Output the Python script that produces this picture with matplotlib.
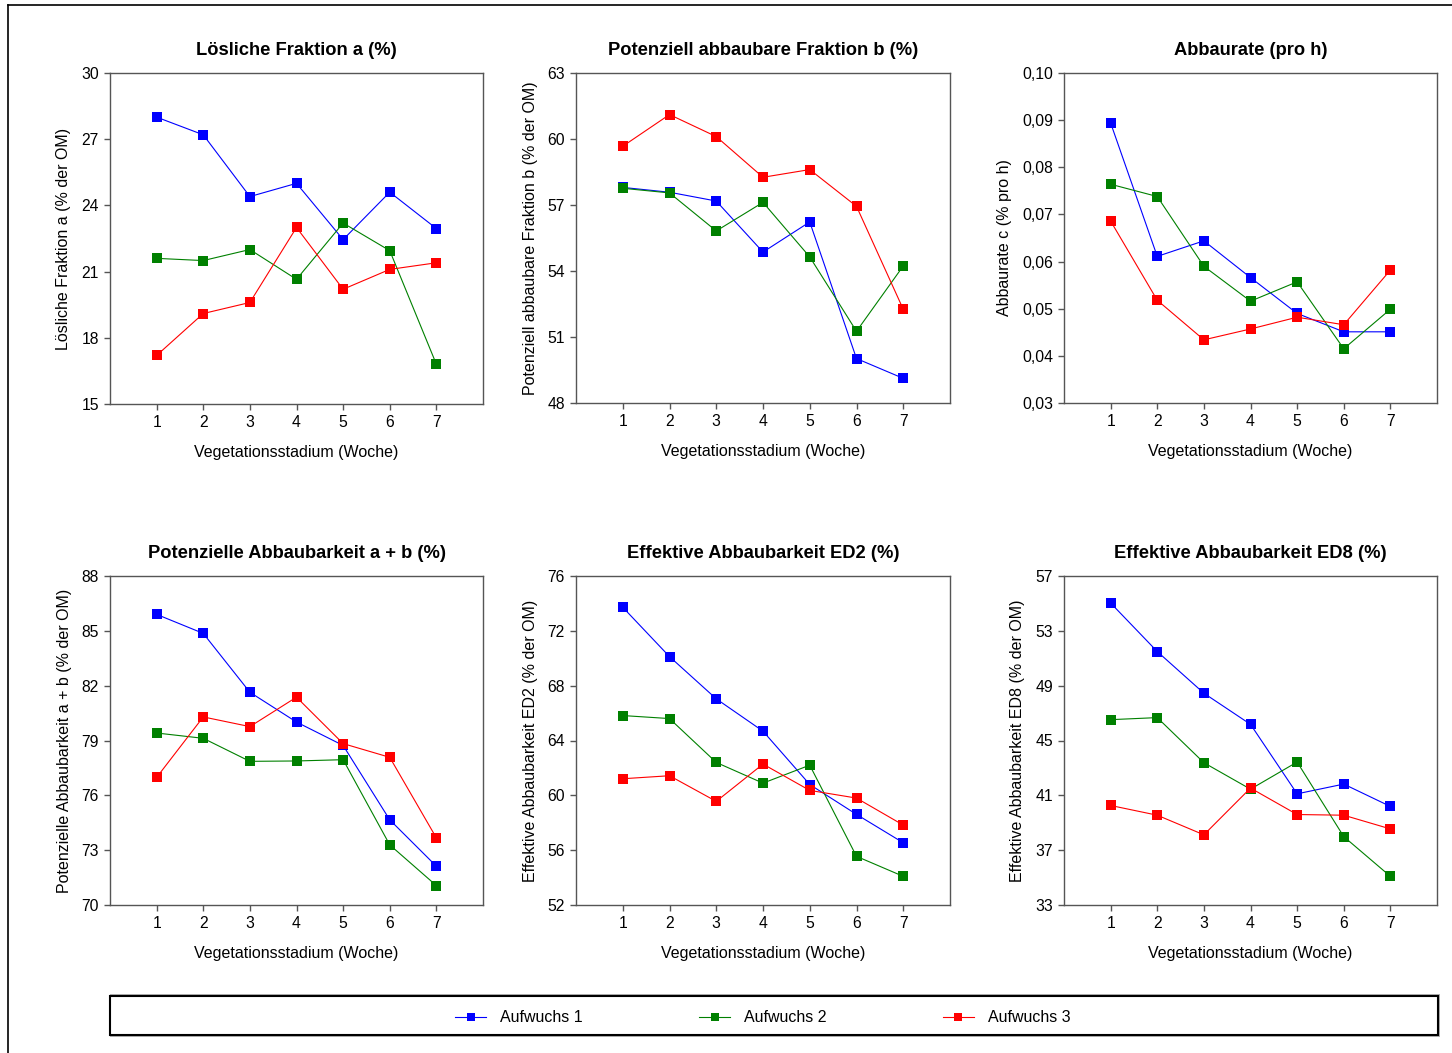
import matplotlib

matplotlib.use("Agg")
import matplotlib.pyplot as plt
from matplotlib.lines import Line2D
from matplotlib.patches import Rectangle
from matplotlib.ticker import FuncFormatter

plt.rcParams.update(
    {
        "font.family": ["Liberation Sans", "DejaVu Sans"],
        "font.size": 11,
        "axes.edgecolor": "#555555",
        "axes.linewidth": 1.0,
        "xtick.color": "#555555",
        "ytick.color": "#555555",
        "xtick.labelcolor": "black",
        "ytick.labelcolor": "black",
    }
)

# ── Data ──────────────────────────────────────────────────────────────────────
weeks = [1, 2, 3, 4, 5, 6, 7]
series_names = ["Aufwuchs 1", "Aufwuchs 2", "Aufwuchs 3"]
COLORS = ["#0000FF", "#008000", "#FF0000"]

a_loeslich = [
    [28.0, 27.2, 24.4, 25.0, 22.45, 24.6, 22.95],
    [21.6, 21.5, 22.0, 20.65, 23.2, 21.95, 16.8],
    [17.2, 19.1, 19.6, 23.0, 20.2, 21.1, 21.4],
]
b_abbaubar = [
    [57.8, 57.58, 57.18, 54.86, 56.23, 50.02, 49.12],
    [57.76, 57.55, 55.82, 57.12, 54.64, 51.26, 54.23],
    [59.67, 61.11, 60.11, 58.26, 58.61, 56.94, 52.26],
]
c_rate = [
    [0.0894, 0.0611, 0.0644, 0.0566, 0.0490, 0.0451, 0.0451],
    [0.0764, 0.0738, 0.0590, 0.0516, 0.0557, 0.0415, 0.0499],
    [0.0686, 0.0518, 0.0434, 0.0457, 0.0482, 0.0466, 0.0582],
]
ab_pot = [
    [85.9, 84.86, 81.64, 80.01, 78.73, 74.66, 72.12],
    [79.41, 79.12, 77.86, 77.88, 77.95, 73.29, 71.06],
    [76.98, 80.29, 79.76, 81.37, 78.83, 78.08, 73.67],
]
ed2 = [
    [73.72, 70.12, 67.04, 64.68, 60.79, 58.61, 56.54],
    [65.82, 65.6, 62.4, 60.89, 62.2, 55.55, 54.09],
    [61.21, 61.43, 59.56, 62.28, 60.36, 59.8, 57.83],
]
ed8 = [
    [55.03, 51.49, 48.45, 46.18, 41.11, 41.82, 40.19],
    [46.52, 46.67, 43.38, 41.45, 43.43, 37.99, 35.09],
    [40.26, 39.55, 38.12, 41.53, 39.6, 39.55, 38.55],
]

panels = [
    (a_loeslich, "Lösliche Fraktion a (%)", "Lösliche Fraktion a (% der OM)",
     [15, 18, 21, 24, 27, 30], "{:.0f}"),
    (b_abbaubar, "Potenziell abbaubare Fraktion b (%)",
     "Potenziell abbaubare Fraktion b (% der OM)",
     [48, 51, 54, 57, 60, 63], "{:.0f}"),
    (c_rate, "Abbaurate (pro h)", "Abbaurate c (% pro h)",
     [0.03, 0.04, 0.05, 0.06, 0.07, 0.08, 0.09, 0.10], "{:.2f}"),
    (ab_pot, "Potenzielle Abbaubarkeit a + b (%)",
     "Potenzielle Abbaubarkeit a + b (% der OM)",
     [70, 73, 76, 79, 82, 85, 88], "{:.0f}"),
    (ed2, "Effektive Abbaubarkeit ED2 (%)", "Effektive Abbaubarkeit ED2 (% der OM)",
     [52, 56, 60, 64, 68, 72, 76], "{:.0f}"),
    (ed8, "Effektive Abbaubarkeit ED8 (%)", "Effektive Abbaubarkeit ED8 (% der OM)",
     [33, 37, 41, 45, 49, 53, 57], "{:.0f}"),
]

# axes boxes in pixels: left, right, top, bottom
W, H = 1452, 1053
boxes = [
    (110, 483, 73, 404),
    (576, 950, 73, 403),
    (1064, 1437, 73, 403),
    (110, 483, 576, 905),
    (576, 950, 576, 905),
    (1064, 1437, 576, 905),
]

fig = plt.figure(figsize=(W / 100, H / 100), dpi=100)

for (data, title, ylabel, yticks, fmt), (l, r, t, b) in zip(panels, boxes):
    ax = fig.add_axes([l / W, 1 - b / H, (r - l) / W, (b - t) / H])
    for vals, col in zip(data, COLORS):
        ax.plot(weeks, vals, color=col, lw=0.8, marker="s", ms=7.3,
                markeredgewidth=0, clip_on=False)
    ax.set_xlim(0, 8)
    ax.set_ylim(yticks[0], yticks[-1])
    ax.set_xticks(weeks)
    ax.set_yticks(yticks)
    ax.yaxis.set_major_formatter(
        FuncFormatter(lambda v, p, f=fmt: f.format(v).replace(".", ","))
    )
    ax.tick_params(direction="out", length=4, width=1, labelsize=11.3, pad=4)
    ax.set_title(title, fontsize=13.2, fontweight="bold", pad=13)
    ax.set_ylabel(ylabel, fontsize=11.5, labelpad=7)
    ax.set_xlabel("Vegetationsstadium (Woche)", fontsize=11.5, labelpad=11)

# ── Legend box ────────────────────────────────────────────────────────────────
fig.patches.append(
    Rectangle((110 / W, 1 - 1037 / H), 1330 / W, 43 / H, transform=fig.transFigure,
              facecolor="#b0b0b0", edgecolor="none", zorder=0)
)
fig.patches.append(
    Rectangle((110 / W, 1 - 1035 / H), 1328 / W, 39 / H, transform=fig.transFigure,
              facecolor="white", edgecolor="black", lw=1.5, zorder=1)
)
handles = [Line2D([], [], color=c, lw=0.8, marker="s", ms=6, markeredgewidth=0)
           for c in COLORS]
leg = fig.legend(handles, series_names, loc="center", ncol=3,
                 bbox_to_anchor=(763 / W, 1 - 1018 / H), frameon=False,
                 fontsize=11.5, columnspacing=7.3, handlelength=1.9,
                 handletextpad=0.9)

# ── Outer frame ──────────────────────────────────────────────────────────────
fig.add_artist(Line2D([8 / W, 8 / W], [0, 1 - 5 / H], color="black", lw=1.2,
                      transform=fig.transFigure))
fig.add_artist(Line2D([8 / W, 1], [1 - 5 / H, 1 - 5 / H], color="black", lw=1.2,
                      transform=fig.transFigure))

fig.savefig("out.png", dpi=100)
